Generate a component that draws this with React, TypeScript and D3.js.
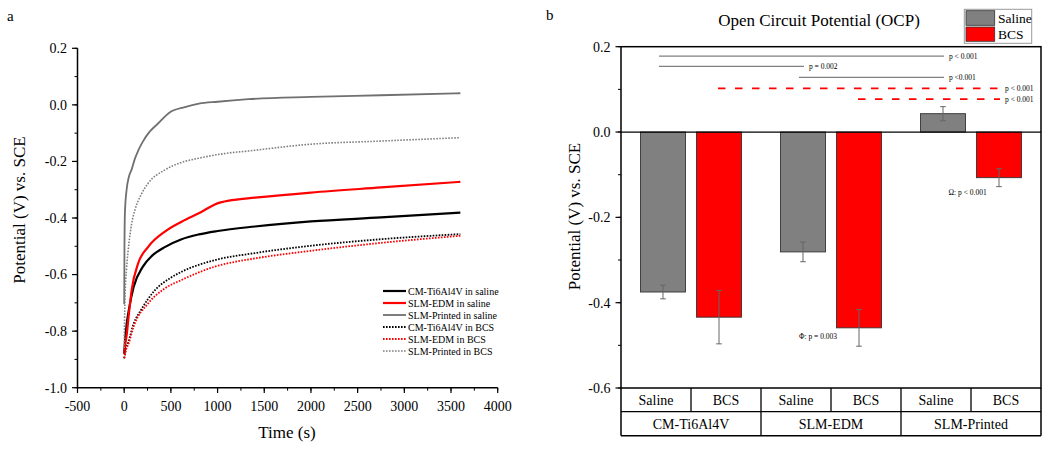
import React from "react";
import * as d3 from "d3";

// ---------- Panel a data: [time (s), potential (V)] ----------
const cmSaline: [number, number][] = [
  [0, -0.88], [8, -0.84], [25, -0.78], [50, -0.725], [100, -0.645], [200, -0.572], [300, -0.533],
  [440, -0.502], [615, -0.475], [800, -0.458], [1000, -0.446], [1400, -0.43], [2000, -0.412],
  [2750, -0.398], [3600, -0.381],
];
const edmSaline: [number, number][] = [
  [0, -0.88], [10, -0.85], [26, -0.815], [50, -0.74], [80, -0.655], [150, -0.56], [257, -0.502],
  [436, -0.448], [615, -0.413], [830, -0.378], [970, -0.352], [1150, -0.337], [1400, -0.328],
  [2000, -0.31], [2750, -0.292], [3600, -0.272],
];
const printedSaline: [number, number][] = [
  [0, -0.705], [3, -0.5], [8, -0.38], [26, -0.3], [50, -0.255], [80, -0.228], [115, -0.19],
  [150, -0.162], [200, -0.13], [260, -0.1], [365, -0.065], [490, -0.026], [650, -0.008],
  [800, 0.004], [1000, 0.011], [1330, 0.02], [2000, 0.028], [2750, 0.034], [3600, 0.041],
];
const cmBCS: [number, number][] = [
  [0, -0.896], [20, -0.86], [43, -0.84], [100, -0.775], [186, -0.722], [330, -0.655], [490, -0.613],
  [615, -0.59], [970, -0.549], [1400, -0.524], [1950, -0.5], [2750, -0.475], [3600, -0.457],
];
const edmBCS: [number, number][] = [
  [0, -0.896], [20, -0.865], [43, -0.848], [100, -0.785], [257, -0.702], [430, -0.65],
  [615, -0.619], [970, -0.572], [1400, -0.543], [1950, -0.518], [2750, -0.488], [3600, -0.463],
];
const printedBCS: [number, number][] = [
  [0, -0.86], [8, -0.69], [25, -0.58], [43, -0.513], [80, -0.42], [115, -0.372], [180, -0.318],
  [257, -0.277], [436, -0.23], [600, -0.205], [793, -0.189], [1100, -0.171], [1330, -0.163],
  [2000, -0.139], [2750, -0.128], [3600, -0.116],
];
const lineLabels = [
  "CM-Ti6Al4V in saline", "SLM-EDM in saline", "SLM-Printed in saline",
  "CM-Ti6Al4V in BCS", "SLM-EDM in BCS", "SLM-Printed in BCS",
];
const xTicksA = [-500, 0, 500, 1000, 1500, 2000, 2500, 3000, 3500, 4000];
const yTicksA = [0.2, 0.0, -0.2, -0.4, -0.6, -0.8, -1.0];

// ---------- Panel b data ----------
const groups = ["CM-Ti6Al4V", "SLM-EDM", "SLM-Printed"];
const mediums = ["Saline", "BCS"];
const salineMeans = [-0.375, -0.281, 0.043];
const salineErr = [0.016, 0.023, 0.0165];
const bcsMeans = [-0.434, -0.459, -0.107];
const bcsErr = [0.0625, 0.043, 0.021];
const yTicksB = [0.2, 0.0, -0.2, -0.4, -0.6];
// significance bars
const sigFrom = [[0, 0], [0, 0], [1, 0], [0, 1], [1, 1]];
const sigTo = [[2, 0], [1, 0], [2, 0], [2, 1], [2, 1]];
const sigY = [0.178, 0.154, 0.128, 0.1025, 0.077];
const sigLabels = ["p < 0.001", "p = 0.002", "p <0.001", "p < 0.001", "p < 0.001"];
const sigDashed = [false, false, false, true, true];

const FONT = "'Liberation Serif', 'Times New Roman', Times, serif";

export default function App() {
  const xA = d3.scaleLinear().domain([-500, 4000]).range([77.5, 497.7]);
  const yA = d3.scaleLinear().domain([-1.0, 0.2]).range([387.7, 48.3]);
  const line = d3
    .line<[number, number]>()
    .x((d) => xA(d[0]))
    .y((d) => yA(d[1]))
    .curve(d3.curveMonotoneX);

  const series = [
    { data: cmSaline, color: "#000000", width: 2.2, dash: "" },
    { data: edmSaline, color: "#ff0000", width: 2.2, dash: "" },
    { data: printedSaline, color: "#707070", width: 1.8, dash: "" },
    { data: cmBCS, color: "#000000", width: 1.8, dash: "1.6,1.4" },
    { data: edmBCS, color: "#ff0000", width: 1.8, dash: "1.6,1.4" },
    { data: printedBCS, color: "#808080", width: 1.6, dash: "1.6,1.4" },
  ];
  const xMinorA = d3.range(-500, 4001, 250);
  const yMinorA = d3.range(-1.0, 0.21, 0.1);

  const gX = d3.scaleBand().domain(groups).range([621, 1041]).padding(0);
  const mX = d3
    .scaleBand()
    .domain(mediums)
    .range([0, gX.bandwidth()])
    .paddingInner(0.1964)
    .paddingOuter(0.348);
  const yB = d3.scaleLinear().domain([-0.6, 0.2]).range([388, 46.7]);
  const yMinorB = d3.range(-0.6, 0.21, 0.1);
  const barCenter = (g: number, m: number) =>
    (gX(groups[g]) as number) + (mX(mediums[m]) as number) + mX.bandwidth() / 2;

  const bars: { g: number; m: number; v: number; e: number }[] = [];
  groups.forEach((_, gi) => {
    bars.push({ g: gi, m: 0, v: salineMeans[gi], e: salineErr[gi] });
    bars.push({ g: gi, m: 1, v: bcsMeans[gi], e: bcsErr[gi] });
  });

  const cellW = gX.bandwidth() / 2;

  return (
    <svg width={1050} height={450} style={{ display: "block", position: "absolute", left: 0, top: 0 }} fontFamily={FONT}>
      <rect x={0} y={0} width={1050} height={450} fill="#fff" />
      {/* ===== Panel a ===== */}
      <text x={7} y={21} fontSize={15}>a</text>
      {series.map((s, i) => (
        <path key={i} d={line(s.data) as string} fill="none" stroke={s.color}
          strokeWidth={s.width} strokeDasharray={s.dash || undefined} />
      ))}
      <line x1={77.5} x2={77.5} y1={48.3} y2={388.4} stroke="#000" strokeWidth={1.5} />
      <line x1={76.8} x2={497.7} y1={387.7} y2={387.7} stroke="#000" strokeWidth={1.5} />
      {yMinorA.map((v, i) => (
        <line key={"ym" + i} x1={77.5} x2={74.5} y1={yA(v)} y2={yA(v)} stroke="#000" strokeWidth={1} />
      ))}
      {yTicksA.map((v) => (
        <g key={"yt" + v}>
          <line x1={77.5} x2={72} y1={yA(v)} y2={yA(v)} stroke="#000" strokeWidth={1.2} />
          <text x={67} y={yA(v)} dy="0.35em" textAnchor="end" fontSize={14}>{v.toFixed(1)}</text>
        </g>
      ))}
      {xMinorA.map((v, i) => (
        <line key={"xm" + i} x1={xA(v)} x2={xA(v)} y1={387.7} y2={390.7} stroke="#000" strokeWidth={1} />
      ))}
      {xTicksA.map((v) => (
        <g key={"xt" + v}>
          <line x1={xA(v)} x2={xA(v)} y1={387.7} y2={393} stroke="#000" strokeWidth={1.2} />
          <text x={xA(v)} y={410.5} textAnchor="middle" fontSize={14}>{v}</text>
        </g>
      ))}
      <text x={287} y={438} textAnchor="middle" fontSize={17}>Time (s)</text>
      <text transform="translate(25,210) rotate(-90)" textAnchor="middle" fontSize={17}>Potential (V) vs. SCE</text>
      {series.map((s, i) => (
        <g key={"la" + i}>
          <line x1={383} x2={406} y1={291 + i * 12} y2={291 + i * 12} stroke={s.color}
            strokeWidth={s.width} strokeDasharray={s.dash || undefined} />
          <text x={408} y={291 + i * 12} dy="0.35em" fontSize={10}>{lineLabels[i]}</text>
        </g>
      ))}

      {/* ===== Panel b ===== */}
      <text x={546} y={20} fontSize={15}>b</text>
      <text x={819} y={26} textAnchor="middle" fontSize={17}>Open Circuit Potential (OCP)</text>
      <rect x={964.3} y={9.3} width={67.4} height={34} fill="#fff" stroke="#999" strokeWidth={1} />
      <rect x={966} y={10.7} width={28.7} height={14.6} fill="#808080" stroke="#333" strokeWidth={0.8} />
      <rect x={966} y={27} width={28.7} height={14.3} fill="#ff0000" stroke="#333" strokeWidth={0.8} />
      <text x={998} y={18} dy="0.35em" fontSize={13.5}>Saline</text>
      <text x={998} y={34.2} dy="0.35em" fontSize={13.5}>BCS</text>

      {bars.map((b, i) => {
        const cx = barCenter(b.g, b.m);
        const y0 = yB(0);
        const y1 = yB(b.v);
        return (
          <g key={"bar" + i}>
            <rect x={cx - mX.bandwidth() / 2} y={Math.min(y0, y1)} width={mX.bandwidth()}
              height={Math.abs(y1 - y0)} fill={b.m === 0 ? "#808080" : "#ff0000"} stroke="#333" strokeWidth={0.9} />
            <line x1={cx} x2={cx} y1={yB(b.v + b.e)} y2={yB(b.v - b.e)} stroke="#666" strokeWidth={1} />
            <line x1={cx - 2.8} x2={cx + 2.8} y1={yB(b.v + b.e)} y2={yB(b.v + b.e)} stroke="#666" strokeWidth={1} />
            <line x1={cx - 2.8} x2={cx + 2.8} y1={yB(b.v - b.e)} y2={yB(b.v - b.e)} stroke="#666" strokeWidth={1} />
          </g>
        );
      })}
      <line x1={621} x2={1041} y1={yB(0)} y2={yB(0)} stroke="#000" strokeWidth={1.3} />
      {sigY.map((v, i) => {
        const x1 = barCenter(sigFrom[i][0], sigFrom[i][1]) - (sigDashed[i] ? 1 : 4);
        const x2 = barCenter(sigTo[i][0], sigTo[i][1]) + 1;
        return (
          <g key={"sig" + i}>
            <line x1={x1} x2={x2} y1={yB(v)} y2={yB(v)}
              stroke={sigDashed[i] ? "#ff0000" : "#808080"} strokeWidth={sigDashed[i] ? 1.8 : 1.3}
              strokeDasharray={sigDashed[i] ? "7.5,9.5" : undefined} />
            <text x={x2 + 5} y={yB(v)} dy="0.35em" fontSize={7.5}>{sigLabels[i]}</text>
          </g>
        );
      })}
      <text x={799} y={339} fontSize={7.5}>Φ: p = 0.003</text>
      <text x={948.5} y={195} fontSize={7.5}>Ω: p &lt; 0.001</text>

      <rect x={621} y={46.7} width={420} height={341.3} fill="none" stroke="#000" strokeWidth={1.5} />
      {yMinorB.map((v, i) => (
        <line key={"ybm" + i} x1={621} x2={618} y1={yB(v)} y2={yB(v)} stroke="#000" strokeWidth={1} />
      ))}
      {yTicksB.map((v) => (
        <g key={"ybt" + v}>
          <line x1={621} x2={615.5} y1={yB(v)} y2={yB(v)} stroke="#000" strokeWidth={1.2} />
          <text x={610.5} y={yB(v)} dy="0.35em" textAnchor="end" fontSize={14}>{v.toFixed(1)}</text>
        </g>
      ))}
      <text transform="translate(580,216.5) rotate(-90)" textAnchor="middle" fontSize={17}>Potential (V) vs. SCE</text>

      <line x1={621} x2={1041} y1={411.7} y2={411.7} stroke="#000" strokeWidth={1.3} />
      <line x1={621} x2={1041} y1={435.7} y2={435.7} stroke="#000" strokeWidth={1.5} />
      <line x1={621} x2={621} y1={388} y2={435.7} stroke="#000" strokeWidth={1.5} />
      <line x1={1041} x2={1041} y1={388} y2={435.7} stroke="#000" strokeWidth={1.5} />
      {groups.map((g, gi) => {
        const gx = gX(g) as number;
        return (
          <g key={"cat" + gi}>
            {gi > 0 && <line x1={gx} x2={gx} y1={388} y2={435.7} stroke="#000" strokeWidth={1.3} />}
            <line x1={gx + cellW} x2={gx + cellW} y1={388} y2={411.7} stroke="#000" strokeWidth={1.3} />
            {mediums.map((m, mi) => (
              <text key={m} x={gx + cellW * mi + cellW / 2} y={400} dy="0.35em" textAnchor="middle" fontSize={14}>{m}</text>
            ))}
            <text x={gx + gX.bandwidth() / 2} y={424} dy="0.35em" textAnchor="middle" fontSize={14}>{g}</text>
          </g>
        );
      })}
    </svg>
  );
}
